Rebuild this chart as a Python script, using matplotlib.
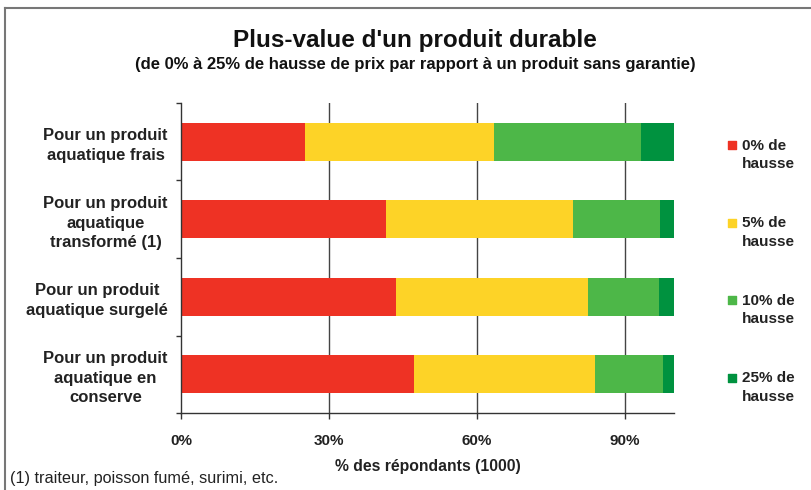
import numpy as np
import matplotlib
matplotlib.use("Agg")
from matplotlib import pyplot as plt
from matplotlib.lines import Line2D
import matplotlib.transforms as mtransforms

plt.rcParams['font.family'] = ['Liberation Sans', 'DejaVu Sans']

categories = ['Pour un produit\naquatique frais',
              'Pour un produit\naquatique\ntransformé (1)',
              'Pour un produit\naquatique surgelé',
              'Pour un produit\naquatique en\nconserve']
series_names = ['0% de\nhausse', '5% de\nhausse', '10% de\nhausse', '25% de\nhausse']
hausse_0 = [25.2, 41.6, 43.7, 47.2]
hausse_5 = [38.2, 38.0, 38.9, 36.7]
hausse_10 = [30.0, 17.6, 14.4, 13.9]
hausse_25 = [6.6, 2.8, 3.0, 2.2]
xticks = [0, 30, 60, 90]
xtick_labels = ['0%', '30%', '60%', '90%']

colors = ['#ee3224', '#fdd327', '#4db748', '#00923f']

W, H = 811, 490
fig = plt.figure(figsize=(W / 100, H / 100), dpi=100)
ax = fig.add_axes([181 / W, 1 - 413 / H, 493 / W, 310 / H])

y = np.arange(len(categories))
left = np.zeros(len(categories))
for vals, c in zip([hausse_0, hausse_5, hausse_10, hausse_25], colors):
    ax.barh(y, vals, left=left, height=0.49, color=c, zorder=2)
    left += np.array(vals)

ax.set_xlim(0, 100)
ax.set_ylim(3.5, -0.5)
ax.set_xticks(xticks)
ax.set_xticklabels(xtick_labels, fontsize=11, fontweight='bold', color='#222222')
ax.tick_params(axis='x', length=4, width=1, pad=11, color='#333333')
for xv in xticks[1:]:
    ax.axvline(xv, color='#444444', lw=1, zorder=1)

ax.set_yticks(y)
ax.set_yticklabels(categories, fontsize=12, fontweight='bold', color='#222222')
for lab in ax.get_yticklabels():
    lab.set_multialignment('center')
    lab.set_linespacing(1.38)
ax.tick_params(axis='y', which='major', length=0, pad=9.5)
ax.set_yticks(np.arange(-0.5, 4, 1), minor=True)
ax.tick_params(axis='y', which='minor', length=3.5, width=1, color='#333333')

for s in ['top', 'right']:
    ax.spines[s].set_visible(False)
for s in ['left', 'bottom']:
    ax.spines[s].set_color('#333333')
    ax.spines[s].set_linewidth(1)

ax.set_xlabel('% des répondants (1000)', fontsize=11.3, fontweight='bold', color='#222222', labelpad=8)

# legend drawn next to each bar row
blend = mtransforms.blended_transform_factory(ax.transAxes, ax.transData)
for i, (name, c) in enumerate(zip(series_names, colors)):
    ax.scatter([1.118], [i + 0.045], marker='s', s=34, color=c,
               transform=blend, clip_on=False, zorder=3)
    ax.text(1.138, i - 0.04, name, fontsize=11, fontweight='bold', color='#222222',
            va='top', ha='left', linespacing=1.4, transform=blend)

fig.text(415 / W, 1 - 40 / H, "Plus-value d'un produit durable", fontsize=17.5,
         fontweight='bold', ha='center', va='center', color='#111111')
fig.text(415 / W, 1 - 64 / H,
         "(de 0% à 25% de hausse de prix par rapport à un produit sans garantie)",
         fontsize=12, fontweight='bold', ha='center', va='center', color='#111111')
fig.text(10 / W, 1 - 478 / H, "(1) traiteur, poisson fumé, surimi, etc.",
         fontsize=11.7, ha='left', va='center', color='#222222')

# frame (left and top border)
fig.add_artist(Line2D([5 / W, 5 / W], [0, 1 - 8 / H], transform=fig.transFigure,
                      color='#777777', lw=1.5))
fig.add_artist(Line2D([5 / W, 1], [1 - 8 / H, 1 - 8 / H], transform=fig.transFigure,
                      color='#777777', lw=1.5))

fig.savefig('out.png', dpi=100)
